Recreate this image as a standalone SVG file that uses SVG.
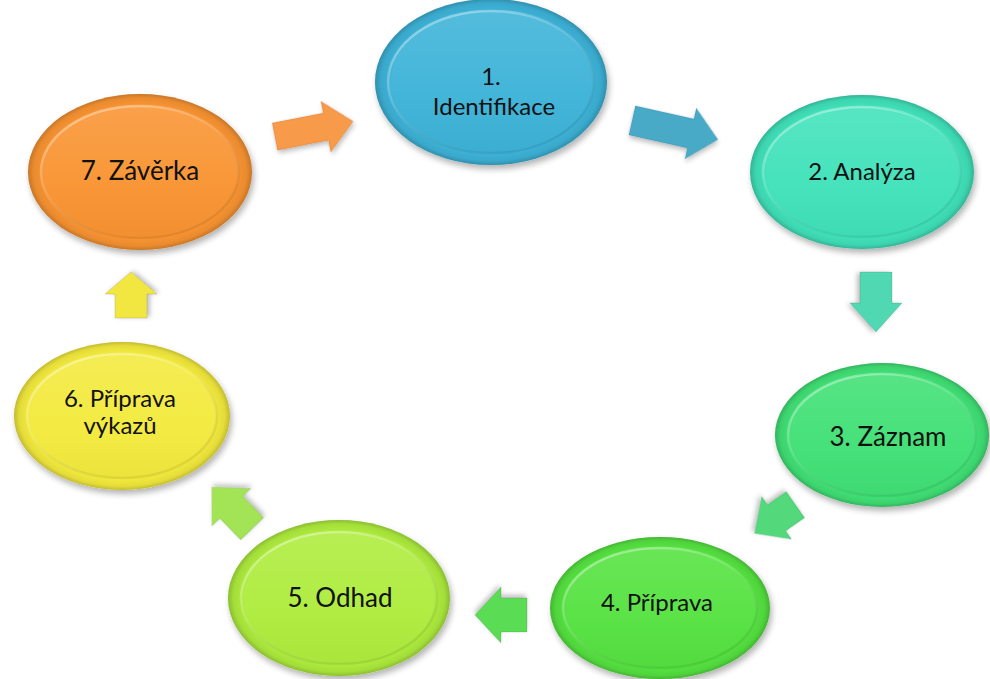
<svg xmlns="http://www.w3.org/2000/svg" width="990" height="679" viewBox="0 0 990 679">
<style>
.lbl{font-family:Lato,"Open Sans","Liberation Sans",sans-serif;fill:#111;text-anchor:middle;}
.s{font-size:24px;}
.b{font-size:26px;}
.rim{fill:url(#rim);}
.face{fill:url(#face);stroke:url(#bevel);stroke-width:2.5;}
.arr{stroke:rgba(0,0,0,0.1);stroke-width:1;filter:url(#ash);}
</style>
<defs>
<filter id="sh" x="-20%" y="-20%" width="140%" height="150%">
<feGaussianBlur in="SourceAlpha" stdDeviation="3"/>
<feOffset dx="2" dy="4" result="o"/>
<feComponentTransfer><feFuncA type="linear" slope="0.3"/></feComponentTransfer>
<feMerge><feMergeNode/><feMergeNode in="SourceGraphic"/></feMerge>
</filter>
<filter id="ash" x="-30%" y="-30%" width="160%" height="170%">
<feGaussianBlur in="SourceAlpha" stdDeviation="2.5"/>
<feOffset dx="1" dy="3"/>
<feComponentTransfer><feFuncA type="linear" slope="0.25"/></feComponentTransfer>
<feMerge><feMergeNode/><feMergeNode in="SourceGraphic"/></feMerge>
</filter>
<radialGradient id="rim" cx="0.5" cy="0.5" r="0.5">
<stop offset="0" stop-color="#000" stop-opacity="0"/>
<stop offset="0.85" stop-color="#000" stop-opacity="0"/>
<stop offset="0.95" stop-color="#000" stop-opacity="0.06"/>
<stop offset="1" stop-color="#000" stop-opacity="0.2"/>
</radialGradient>
<linearGradient id="face" x1="0" y1="0" x2="0" y2="1">
<stop offset="0" stop-color="#fff" stop-opacity="0.12"/>
<stop offset="0.6" stop-color="#fff" stop-opacity="0.03"/>
<stop offset="1" stop-color="#000" stop-opacity="0.03"/>
</linearGradient>
<linearGradient id="bevel" x1="0" y1="0" x2="0.6" y2="1">
<stop offset="0" stop-color="#fff" stop-opacity="0.5"/>
<stop offset="0.5" stop-color="#fff" stop-opacity="0.15"/>
<stop offset="1" stop-color="#000" stop-opacity="0.08"/>
</linearGradient>
</defs>

<g id="connectors">
<path class="arr" fill="#f79a4a" transform="translate(314,129) rotate(-11)" d="M-40,-14 H12 V-26 L40,0 L12,26 V14 H-40 Z"/>
<path class="arr" fill="#48aac8" transform="translate(675,130) rotate(12.6)" d="M-44,-15 H16 V-26 L44,0 L16,26 V15 H-44 Z"/>
<path class="arr" fill="#50d8b2" transform="translate(876,302) rotate(90)" d="M-30,-16 H1 V-26 L30,0 L1,26 V16 H-30 Z"/>
<path class="arr" fill="#52d87c" transform="translate(775,519) rotate(145)" d="M-25,-16 H-2 V-26 L25,0 L-2,26 V16 H-25 Z"/>
<path class="arr" fill="#5adc55" transform="translate(501,615) rotate(180)" d="M-26,-17 H0 V-28 L26,0 L0,28 V17 H-26 Z"/>
<path class="arr" fill="#a2e456" transform="translate(232,508) rotate(-134)" d="M-29,-16 H1 V-27 L29,0 L1,27 V16 H-29 Z"/>
<path class="arr" fill="#f2e640" transform="translate(131,295) rotate(-90)" d="M-23,-16 H1 V-26 L23,0 L1,26 V16 H-23 Z"/>
</g>

<g id="n1">
<ellipse cx="491" cy="82" rx="116" ry="83" fill="#3db3d8" filter="url(#sh)"/>
<ellipse class="rim" cx="491" cy="82" rx="116" ry="83"/>
<ellipse class="face" cx="491" cy="82" rx="103" ry="71"/>
<text class="lbl s" x="491" y="85">1.</text>
<text class="lbl s" x="494" y="115">Identifikace</text>
</g>

<g id="n2">
<ellipse cx="862" cy="172" rx="112" ry="77" fill="#40e2ba" filter="url(#sh)"/>
<ellipse class="rim" cx="862" cy="172" rx="112" ry="77"/>
<ellipse class="face" cx="862" cy="172" rx="99" ry="65"/>
<text class="lbl s" x="862" y="180">2. Analýza</text>
</g>

<g id="n3">
<ellipse cx="882" cy="435" rx="107" ry="72" fill="#3fe074" filter="url(#sh)"/>
<ellipse class="rim" cx="882" cy="435" rx="107" ry="72"/>
<ellipse class="face" cx="882" cy="435" rx="94" ry="61"/>
<text class="lbl b" x="888" y="446">3. Záznam</text>
</g>

<g id="n4">
<ellipse cx="660" cy="608" rx="110" ry="71" fill="#54e240" filter="url(#sh)"/>
<ellipse class="rim" cx="660" cy="608" rx="110" ry="71"/>
<ellipse class="face" cx="660" cy="608" rx="97" ry="60"/>
<text class="lbl s" x="657" y="611">4. Příprava</text>
</g>

<g id="n5">
<ellipse cx="339" cy="598" rx="111" ry="78" fill="#aeec3e" filter="url(#sh)"/>
<ellipse class="rim" cx="339" cy="598" rx="111" ry="78"/>
<ellipse class="face" cx="339" cy="598" rx="98" ry="66"/>
<text class="lbl b" x="340" y="607">5. Odhad</text>
</g>

<g id="n6">
<ellipse cx="122" cy="416" rx="108" ry="74" fill="#f3ea3c" filter="url(#sh)"/>
<ellipse class="rim" cx="122" cy="416" rx="108" ry="74"/>
<ellipse class="face" cx="122" cy="416" rx="95" ry="62"/>
<text class="lbl s" x="120" y="407">6. Příprava</text>
<text class="lbl s" x="120" y="434">výkazů</text>
</g>

<g id="n7">
<ellipse cx="140" cy="172" rx="112" ry="78" fill="#f99430" filter="url(#sh)"/>
<ellipse class="rim" cx="140" cy="172" rx="112" ry="78"/>
<ellipse class="face" cx="140" cy="172" rx="99" ry="66"/>
<text class="lbl b" x="140" y="180">7. Závěrka</text>
</g>
</svg>
